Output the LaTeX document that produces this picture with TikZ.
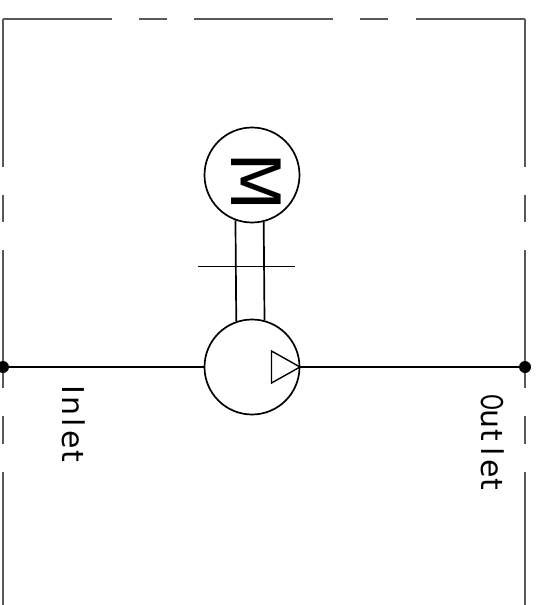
\documentclass[tikz,border=0pt]{standalone}
\usepackage{fontspec}
\setmainfont{DejaVu Sans}
\tikzset{
	unit/.style={draw, circle, line width=1.7pt, minimum size=95pt, inner sep=0pt},
	portdot/.style={circle, fill=black, minimum size=12pt, inner sep=0pt},
	pipe/.style={line width=1.7pt},
	sideframe/.style={line width=1.1pt, color=black!65, dash pattern=on 148pt off 28pt on 27pt off 28pt on 138pt off 28pt on 28pt off 28pt on 300pt},
	topframe/.style={line width=1.1pt, color=black!65, dash pattern=on 109pt off 27pt on 28pt off 27pt on 139pt off 27pt on 28pt off 28pt on 109pt},
	portlabel/.style={rotate=-90, anchor=base, inner sep=0pt, font=\fontsize{30}{30}\selectfont}
}
\newcommand{\pitched}[1]{\makebox[16.5pt]{#1}}
\begin{document}
\begin{tikzpicture}[x=1pt, y=-1pt]
	\useasboundingbox (0,0) rectangle (538,605);
	% frame
	\coordinate (tl) at (3,19);
	\coordinate (tr) at (525,19);
	\coordinate (bl) at (3,605);
	\coordinate (br) at (525,605);
	\draw[topframe] (tl) -- (tr);
	\draw[sideframe] (tl) -- (bl);
	\draw[sideframe] (tr) -- (br);
	% motor and pump
	\node[unit] (motor) at (252,175) {};
	\node[unit] (pump) at (252,367) {};
	\node[rotate=-90, anchor=base, inner sep=0pt, font=\fontsize{68}{68}\selectfont] (motortext) at (231,181.5) {M};
	\draw[pipe] (motor.250.5) -- (pump.109.5);
	\draw[pipe] (motor.284.5) -- (pump.75.5);
	\coordinate (crossl) at (198,266.5);
	\coordinate (crossr) at (295,266.5);
	\draw[pipe] (crossl) -- (crossr);
	\draw[line width=1.4pt] (271.5,351) -- (300,367) -- (271.5,383) -- cycle;
	% ports
	\node[portdot] (inletdot) at (3,367) {};
	\node[portdot] (outletdot) at (525,367) {};
	\draw[pipe] (inletdot) -- (pump);
	\draw[pipe] (pump) -- (outletdot);
	\node[portlabel] (inlettext) at (62,423) {\pitched{I}\pitched{n}\pitched{l}\pitched{e}\pitched{t}};
	\node[portlabel] (outlettext) at (481,443.5) {\pitched{\scalebox{0.68}[1]{O}}\pitched{u}\pitched{t}\pitched{l}\pitched{e}\pitched{t}};
\end{tikzpicture}
\end{document}
